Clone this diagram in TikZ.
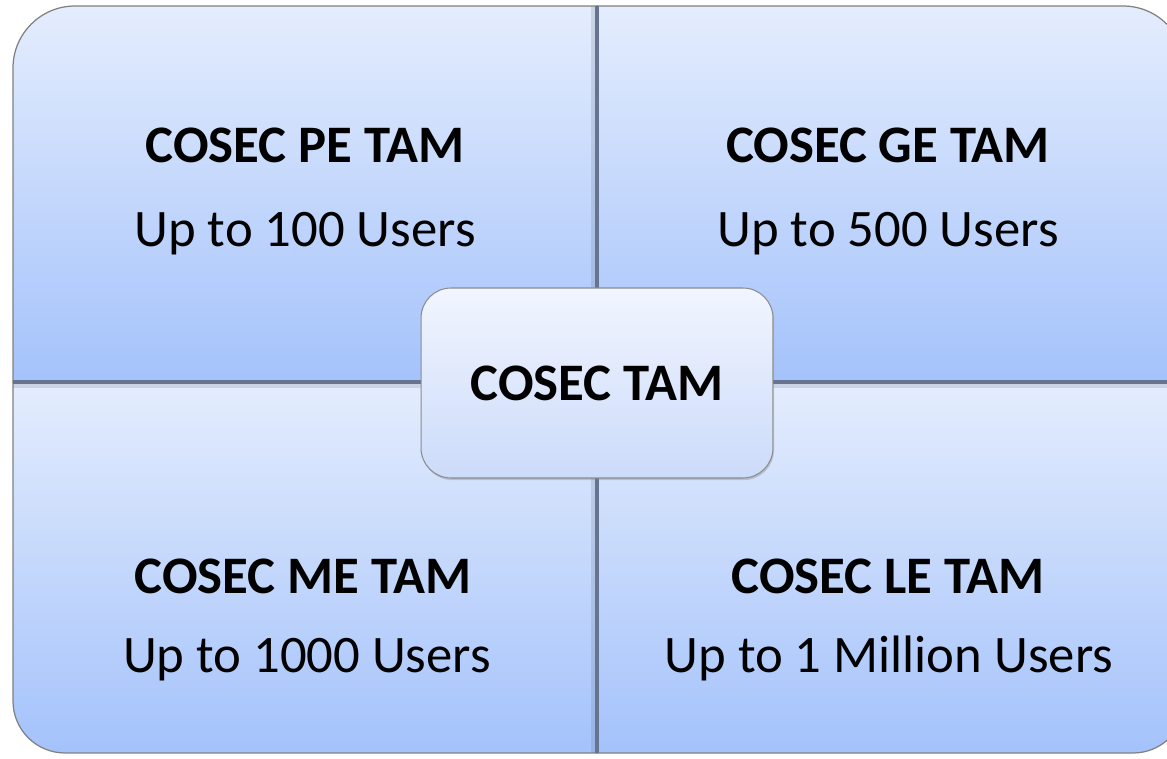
\documentclass[tikz,border=0pt]{standalone}
\usepackage{fontspec}
\setmainfont{Carlito}
\usetikzlibrary{shadows}

\definecolor{quadtop}{HTML}{E4EDFD}
\definecolor{quadbottom}{HTML}{A4C2FB}
\definecolor{quadline}{HTML}{66748F}
\definecolor{outline}{HTML}{808080}
\definecolor{hubtop}{HTML}{F1F5FE}
\definecolor{hubbottom}{HTML}{CCDBFA}

\tikzset{
  quad/.style={draw=outline, line width=0.7pt, top color=quadtop, bottom color=quadbottom},
  divider/.style={draw=quadline, line width=1.9pt},
  title/.style={anchor=base, font=\fontsize{30}{36}\selectfont\bfseries},
  users/.style={anchor=base, font=\fontsize{30}{36}\selectfont},
  hub/.style={draw=gray!90, line width=0.6pt, rounded corners=0.6cm, minimum width=7.04cm,
    minimum height=3.8cm, top color=hubtop, bottom color=hubbottom,
    font=\fontsize{30}{36}\selectfont\bfseries,
    drop shadow={opacity=0.35, shadow xshift=0.6pt, shadow yshift=-1.2pt}}
}

\begin{document}
\begin{tikzpicture}[x=0.02cm, y=0.02cm]

\useasboundingbox (0,0) rectangle (1167,758);

% four quarters, one rounded corner each
\draw[quad] (13,376) -- (13,690) arc[start angle=180, end angle=90, radius=1.24cm] -- (597,752) -- (597,376) -- cycle;
\draw[quad] (597,376) -- (597,752) -- (1123,752) arc[start angle=90, end angle=0, radius=1.24cm] -- (1185,376) -- cycle;
\draw[quad] (13,376) -- (13,57) arc[start angle=180, end angle=270, radius=1.04cm] -- (597,5) -- (597,376) -- cycle;
\draw[quad] (597,376) -- (597,5) -- (1133,5) arc[start angle=270, end angle=360, radius=1.04cm] -- (1185,376) -- cycle;

% soft shade beside the dividers
\draw[quadline, line width=3pt, opacity=0.2] (594,5) -- (594,752);
\draw[quadline, line width=3pt, opacity=0.2] (13,373) -- (1185,373);
\draw[divider] (13,376) -- (1185,376);
\draw[divider] (597,5) -- (597,752);

\node[title] (pe) at (305,595) {COSEC PE TAM};
\node[users] (pe users) at (305,511) {Up to 100 Users};
\node[title] (ge) at (888,595) {COSEC GE TAM};
\node[users] (ge users) at (888,511) {Up to 500 Users};
\node[title] (me) at (303,165) {COSEC ME TAM};
\node[users] (me users) at (307,86) {Up to 1000 Users};
\node[title] (le) at (888,165) {COSEC LE TAM};
\node[users] (le users) at (889,86) {Up to 1 Million Users};

% centre box
\node[hub] (tam) at (597,375) {COSEC TAM};

\end{tikzpicture}
\end{document}
